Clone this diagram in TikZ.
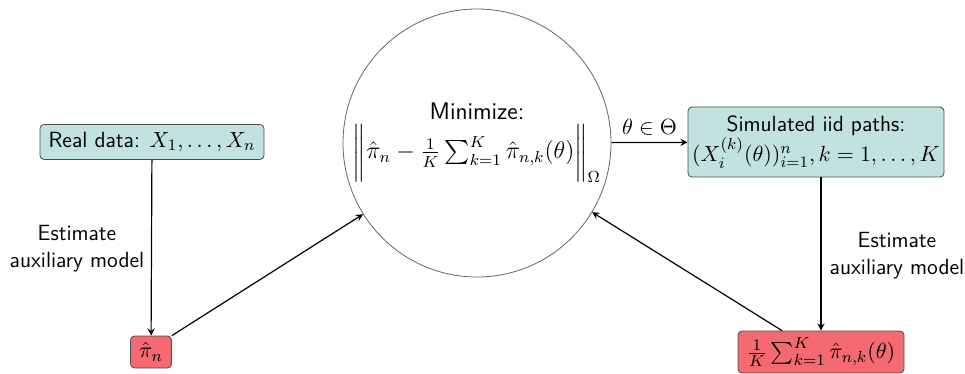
\documentclass[tikz,border=0pt]{standalone}
\usepackage{amsmath}
\definecolor{tealbox}{RGB}{194,226,224}
\definecolor{redbox}{RGB}{245,105,112}
\begin{document}
\begin{tikzpicture}[>=stealth,x=0.5pt,y=-0.5pt,semithick,font=\sffamily\fontsize{11}{13.6}\selectfont,
	data/.style={draw=black!70,fill=tealbox,thin,rounded corners=2pt,align=center,inner sep=3pt},
	estim/.style={draw=black!70,fill=redbox,thin,rounded corners=2pt,align=center,inner sep=3pt},
	lbl/.style={align=center}]
	\useasboundingbox (0,0) rectangle (965,374);
	\node[data,minimum width=112pt,minimum height=17.5pt] (real) at (152,142) {Real data: $X_1,\dots,X_n$};
	\node[estim,minimum width=20.5pt,minimum height=16pt,inner sep=1pt] (pin) at (151,352) {$\hat\pi_n$};
	\node[draw=black!60,thin,circle,minimum size=134pt,inner sep=0pt,align=center,font=\sffamily\fontsize{12}{14.5}\selectfont] (circ) at (477,143) {Minimize:\\[1pt] $\bigg\|\hat\pi_n-\frac{1}{K}\sum_{k=1}^K\hat\pi_{n,k}(\theta)\bigg\|_\Omega$};
	\node[data,minimum width=128pt,minimum height=35pt,inner sep=2pt] (sim) at (816,142) {Simulated iid paths:\\ $(X_i^{(k)}(\theta))_{i=1}^n,k=1,\dots,K$};
	\node[estim,minimum width=83pt,minimum height=21pt,inner sep=2pt] (avg) at (821,352) {$\frac{1}{K}\sum_{k=1}^K\hat\pi_{n,k}(\theta)$};
	\draw[->] (real) -- (pin);
	\node[lbl] (lleft) at (77,249) {Estimate\\ auxiliary model};
	\draw[->] (pin.north east) -- (circ.212);
	\draw[->] (circ) -- node[above] {$\theta\in\Theta$} (sim);
	\draw[->] (sim.south -| avg) -- (avg);
	\node[lbl] (lright) at (897,256) {Estimate\\ auxiliary model};
	\draw[->] ([xshift=-19.5pt]avg.north) -- (circ.329);
\end{tikzpicture}
\end{document}
